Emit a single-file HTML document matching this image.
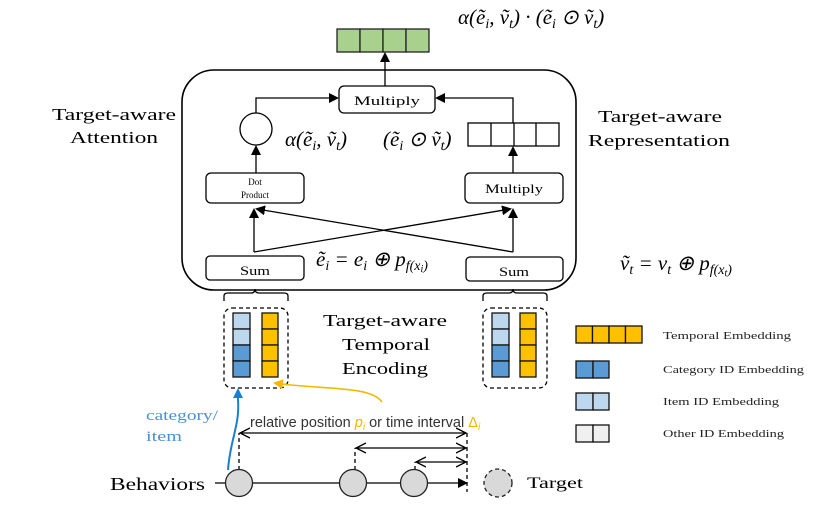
<!DOCTYPE html>
<html><head><meta charset="utf-8"><style>
body{margin:0;background:#fff}
svg{display:block}
.s{font-family:"Liberation Serif",serif}
.m{font-family:"Liberation Serif",serif;font-style:italic}
</style></head><body>
<svg width="830" height="507" viewBox="0 0 830 507" xmlns="http://www.w3.org/2000/svg">
<defs>
<marker id="a" markerWidth="10" markerHeight="10" refX="8" refY="5" orient="auto" markerUnits="userSpaceOnUse"><path d="M0,0L10,5L0,10z" fill="#000"/></marker>
<marker id="ao" markerWidth="12" markerHeight="12" refX="9" refY="6" orient="auto-start-reverse" markerUnits="userSpaceOnUse"><path d="M0,1L10,6L0,11" fill="none" stroke="#000" stroke-width="1.3"/></marker>
<marker id="ab" markerWidth="10" markerHeight="10" refX="8" refY="5" orient="auto" markerUnits="userSpaceOnUse"><path d="M0,0L10,5L0,10z" fill="#1a7fd0"/></marker>
<marker id="ay" markerWidth="10" markerHeight="10" refX="8" refY="5" orient="auto" markerUnits="userSpaceOnUse"><path d="M0,0L10,5L0,10z" fill="#f5b800"/></marker>
</defs>
<g stroke="#222" stroke-width="1.3" fill="#a9d18e">
<rect x="337" y="29" width="23" height="23"/><rect x="360" y="29" width="23" height="23"/><rect x="383" y="29" width="23" height="23"/><rect x="406" y="29" width="23" height="23"/>
</g>
<text x="458" y="24" class="m" font-size="21">α(ẽ<tspan font-size="14" dy="4">i</tspan><tspan dy="-4">, ṽ</tspan><tspan font-size="14" dy="4">t</tspan><tspan dy="-4">) · (ẽ</tspan><tspan font-size="14" dy="4">i</tspan><tspan dy="-4"> ⊙ ṽ</tspan><tspan font-size="14" dy="4">t</tspan><tspan dy="-4">)</tspan></text>
<rect x="182" y="70" width="394" height="220" rx="32" fill="none" stroke="#000" stroke-width="1.6"/>
<g fill="none" stroke="#000" stroke-width="1.3">
<line x1="385" y1="86" x2="385" y2="54" marker-end="url(#a)"/>
<rect x="339" y="86" width="96" height="27" rx="5" fill="#fff"/>
<circle cx="256" cy="129" r="16"/>
<rect x="206" y="173" width="98" height="30" rx="5"/>
<rect x="465" y="173" width="98" height="30" rx="5"/>
<rect x="206" y="256" width="98" height="24" rx="4"/>
<rect x="466" y="257" width="97" height="24" rx="4"/>
<rect x="468" y="123" width="91" height="23"/>
<line x1="491" y1="123" x2="491" y2="146"/><line x1="514" y1="123" x2="514" y2="146"/><line x1="536" y1="123" x2="536" y2="146"/>
<polyline points="256,113 256,98 337,98" marker-end="url(#a)"/>
<polyline points="513,123 513,98 437,98" marker-end="url(#a)"/>
<line x1="256" y1="173" x2="256" y2="147" marker-end="url(#a)"/>
<line x1="513" y1="173" x2="513" y2="148" marker-end="url(#a)"/>
<line x1="254" y1="252" x2="254" y2="210" marker-end="url(#a)"/>
<line x1="513" y1="252" x2="513" y2="210" marker-end="url(#a)"/>
<line x1="254" y1="252" x2="510" y2="209" marker-end="url(#a)"/>
<line x1="513" y1="252" x2="257" y2="209" marker-end="url(#a)"/>
<path d="M224,301 V296 Q224,293 228,293 H251 Q255,293 255,289 Q255,293 259,293 H284 Q288,293 288,296 V301"/>
<path d="M483,301 V296 Q483,293 487,293 H509 Q513,293 513,289 Q513,293 517,293 H543 Q547,293 547,296 V301"/>
<rect x="224" y="308" width="64" height="80" rx="8" stroke-dasharray="4,3"/>
<rect x="483" y="308" width="64" height="80" rx="8" stroke-dasharray="4,3"/>
</g>
<g class="s">
<text x="354" y="105" font-size="13" textLength="66" lengthAdjust="spacingAndGlyphs">Multiply</text>
<text x="255" y="185" font-size="9" text-anchor="middle">Dot</text>
<text x="255" y="198" font-size="9" text-anchor="middle">Product</text>
<text x="485" y="193" font-size="13" textLength="58" lengthAdjust="spacingAndGlyphs">Multiply</text>
<text x="240" y="275" font-size="13" textLength="30" lengthAdjust="spacingAndGlyphs">Sum</text>
<text x="499" y="276" font-size="13" textLength="30" lengthAdjust="spacingAndGlyphs">Sum</text>
</g>
<text x="285" y="146" class="m" font-size="21">α(ẽ<tspan font-size="14" dy="4">i</tspan><tspan dy="-4">, ṽ</tspan><tspan font-size="14" dy="4">t</tspan><tspan dy="-4">)</tspan></text>
<text x="383" y="146" class="m" font-size="21">(ẽ<tspan font-size="14" dy="4">i</tspan><tspan dy="-4"> ⊙ ṽ</tspan><tspan font-size="14" dy="4">t</tspan><tspan dy="-4">)</tspan></text>
<text x="316" y="266" class="m" font-size="21">ẽ<tspan font-size="14" dy="4">i</tspan><tspan dy="-4"> = e</tspan><tspan font-size="14" dy="4">i</tspan><tspan dy="-4"> ⊕ p</tspan><tspan font-size="14" dy="4">f(x</tspan><tspan font-size="10" dy="2">i</tspan><tspan font-size="14" dy="-2">)</tspan></text>
<text x="620" y="270" class="m" font-size="21">ṽ<tspan font-size="14" dy="4">t</tspan><tspan dy="-4"> = v</tspan><tspan font-size="14" dy="4">t</tspan><tspan dy="-4"> ⊕ p</tspan><tspan font-size="14" dy="4">f(x</tspan><tspan font-size="10" dy="2">t</tspan><tspan font-size="14" dy="-2">)</tspan></text>
<g class="s" font-size="17">
<text x="52" y="120" textLength="124" lengthAdjust="spacingAndGlyphs">Target-aware</text><text x="70" y="143" textLength="88" lengthAdjust="spacingAndGlyphs">Attention</text>
<text x="598" y="122" textLength="124" lengthAdjust="spacingAndGlyphs">Target-aware</text><text x="588" y="146" textLength="142" lengthAdjust="spacingAndGlyphs">Representation</text>
<text x="323" y="326" textLength="124" lengthAdjust="spacingAndGlyphs">Target-aware</text><text x="342" y="350" textLength="88" lengthAdjust="spacingAndGlyphs">Temporal</text><text x="342" y="374" textLength="86" lengthAdjust="spacingAndGlyphs">Encoding</text>
</g>
<g stroke="#111" stroke-width="1.3">
<g fill="#bdd7ee"><rect x="233" y="313" width="17" height="16"/><rect x="233" y="329" width="17" height="16"/><rect x="492" y="313" width="17" height="16"/><rect x="492" y="329" width="17" height="16"/></g>
<g fill="#5b9bd5"><rect x="233" y="345" width="17" height="16"/><rect x="233" y="361" width="17" height="16"/><rect x="492" y="345" width="17" height="16"/><rect x="492" y="361" width="17" height="16"/></g>
<g fill="#ffc000"><rect x="262" y="313" width="16" height="16"/><rect x="262" y="329" width="16" height="16"/><rect x="262" y="345" width="16" height="16"/><rect x="262" y="361" width="16" height="16"/>
<rect x="520" y="313" width="16" height="16"/><rect x="520" y="329" width="16" height="16"/><rect x="520" y="345" width="16" height="16"/><rect x="520" y="361" width="16" height="16"/>
<rect x="576" y="326" width="16.5" height="17"/><rect x="592.5" y="326" width="16.5" height="17"/><rect x="609" y="326" width="16.5" height="17"/><rect x="625.5" y="326" width="16.5" height="17"/></g>
<g fill="#5b9bd5"><rect x="576" y="361" width="17" height="17"/><rect x="593" y="361" width="16" height="17"/></g>
<g fill="#bdd7ee"><rect x="576" y="393" width="17" height="17"/><rect x="593" y="393" width="16" height="17"/></g>
<g fill="#f0f0f0"><rect x="576" y="425" width="17" height="17"/><rect x="593" y="425" width="16" height="17"/></g>
</g>
<g class="s" font-size="11" fill="#222">
<text x="663" y="339" textLength="128" lengthAdjust="spacingAndGlyphs">Temporal Embedding</text>
<text x="663" y="373" textLength="141" lengthAdjust="spacingAndGlyphs">Category ID Embedding</text>
<text x="663" y="405" textLength="116" lengthAdjust="spacingAndGlyphs">Item ID Embedding</text>
<text x="663" y="437" textLength="121" lengthAdjust="spacingAndGlyphs">Other ID Embedding</text>
</g>
<path d="M228,470 C230,440 240,425 238,400 L238,390" fill="none" stroke="#1a7fd0" stroke-width="2" marker-end="url(#ab)"/>
<path d="M382,402 C370,385 320,390 275,383" fill="none" stroke="#f5b800" stroke-width="1.6" marker-end="url(#ay)"/>
<text x="146" y="420" class="s" font-size="15" fill="#4a90d9" textLength="72" lengthAdjust="spacingAndGlyphs">category/</text>
<text x="146" y="441" class="s" font-size="15" fill="#4a90d9" textLength="36" lengthAdjust="spacingAndGlyphs">item</text>
<text x="250" y="427" font-family="Liberation Sans,sans-serif" font-size="14.5" fill="#333">relative position <tspan fill="#f5b800" font-style="italic">p<tspan font-size="10" dy="3">i</tspan></tspan><tspan dy="-3"> or time interval </tspan><tspan fill="#f5b800">Δ<tspan font-size="10" dy="3" font-style="italic">i</tspan></tspan></text>
<g fill="none" stroke="#000" stroke-width="1.3">
<line x1="239" y1="470" x2="239" y2="433" stroke-dasharray="4,3"/>
<line x1="355" y1="470" x2="355" y2="448" stroke-dasharray="4,3"/>
<line x1="415" y1="470" x2="415" y2="462" stroke-dasharray="4,3"/>
<line x1="467" y1="433" x2="467" y2="492" stroke-dasharray="4,3"/>
<line x1="241" y1="433" x2="465" y2="433" marker-start="url(#ao)" marker-end="url(#ao)"/>
<line x1="357" y1="448" x2="465" y2="448" marker-start="url(#ao)" marker-end="url(#ao)"/>
<line x1="417" y1="462" x2="465" y2="462" marker-start="url(#ao)" marker-end="url(#ao)"/>
<line x1="215" y1="483" x2="466" y2="483" marker-end="url(#a)"/>
</g>
<g fill="#d9d9d9" stroke="#222" stroke-width="1.3">
<circle cx="239" cy="483" r="13.5"/><circle cx="353" cy="483" r="13.5"/><circle cx="414" cy="483" r="13.5"/>
<circle cx="498" cy="483" r="14" stroke-dasharray="4,3"/>
</g>
<text x="110" y="490" class="s" font-size="18" textLength="95" lengthAdjust="spacingAndGlyphs">Behaviors</text>
<text x="527" y="488" class="s" font-size="16" textLength="56" lengthAdjust="spacingAndGlyphs">Target</text>
</svg>
</body></html>
